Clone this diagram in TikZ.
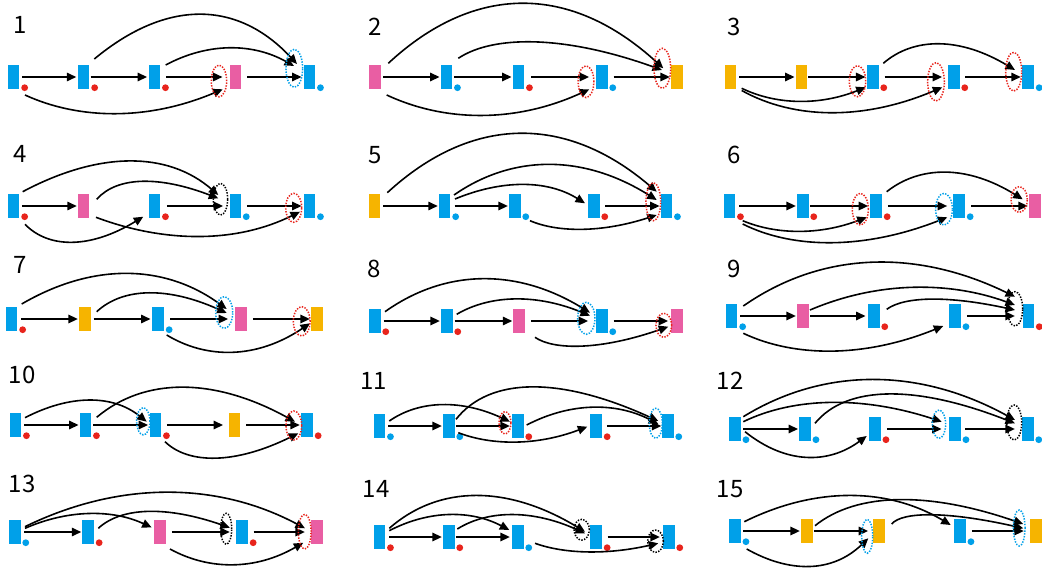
\documentclass[tikz,border=0pt]{standalone}
\usepackage{fontspec}
\newfontfamily\numfont{Noto Sans CJK JP}
\usetikzlibrary{arrows.meta,shapes.geometric}
\definecolor{cblue}{RGB}{0,160,233}
\definecolor{cpink}{RGB}{233,94,163}
\definecolor{corange}{RGB}{246,180,0}
\definecolor{cred}{RGB}{232,36,28}
% one coloured bar, its small marker dot, a dotted ring
\newcommand\mkbar[4]{\node[bar,fill=#4] (#1) at (#2,#3) {};}
\newcommand\mkdot[2]{\node[dotmark,fill=#2] (#1d) at ([shift={(5,-1.5)}]#1.south east) {};}
\newcommand\mkring[6]{\node[ring,draw=#2,minimum width=#5pt,minimum height=#6pt] (#1) at (#3,#4) {};}
% straight link between neighbours, and a bent link
\newcommand\hstep[4]{\draw[arr] ([xshift=#3]#1.east) -- ([xshift=#4]#2.west);}
\newcommand\harc[6]{\draw[arr] ([shift={#2}]#1.center) .. controls +#3 and +#4 .. ([shift={#6}]#5.center);}
\begin{document}
\begin{tikzpicture}[x=1pt,y=-1pt,
  bar/.style={rectangle,inner sep=0,minimum width=11.5pt,minimum height=24pt,draw=none},
  dotmark/.style={circle,inner sep=0,minimum size=6.8pt,draw=none},
  ring/.style={ellipse,inner sep=0,line width=1.5pt,dash pattern=on 1.4pt off 1.4pt},
  arr/.style={line width=1.6pt,-{Triangle[length=9.5pt,width=8.5pt]}},
  num/.style={font=\numfont\fontsize{24}{24}\selectfont,anchor=base,inner sep=0}]
\useasboundingbox[fill=white] (0,0) rectangle (1042,570);

% ---------- 1 ----------
\node[num] (n1) at (20,33.5) {1};
\mkbar{p1a}{13.7}{77}{cblue} \mkbar{p1b}{83.7}{77}{cblue} \mkbar{p1c}{154.5}{77}{cblue}
\mkbar{p1d}{235.3}{77}{cpink} \mkbar{p1e}{309.5}{77}{cblue}
\mkdot{p1a}{cred} \mkdot{p1b}{cred} \mkdot{p1c}{cred} \mkdot{p1e}{cblue}
\hstep{p1a}{p1b}{2.7}{-1.5} \hstep{p1b}{p1c}{1}{-1.5} \hstep{p1c}{p1d}{5.7}{-6.9} \hstep{p1d}{p1e}{6}{-2}
\harc{p1b}{(10.6,-18)}{(71.7,-59.5)}{(-60.1,-64.5)}{p1e}{(-12.5,-13)}
\harc{p1c}{(11.2,-12)}{(41.7,-22.4)}{(-41.7,-23.4)}{p1e}{(-15.5,-11)}
\harc{p1a}{(11.3,18)}{(55.2,25.3)}{(-73.4,31)}{p1d}{(-12.6,12.3)}
\mkring{p1r}{cred}{219}{81}{15.3}{31.7} \mkring{p1s}{cblue}{294.3}{68.3}{16.7}{38}

% ---------- 2 ----------
\node[num] (n2) at (375,35) {2};
\mkbar{p2a}{375}{77}{cpink} \mkbar{p2b}{446.5}{77}{cblue} \mkbar{p2c}{518.5}{77}{cblue}
\mkbar{p2d}{601.8}{77}{cblue} \mkbar{p2e}{676.8}{77}{corange}
\mkdot{p2b}{cblue} \mkdot{p2c}{cred} \mkdot{p2d}{cblue}
\hstep{p2a}{p2b}{2.5}{-1} \hstep{p2b}{p2c}{2}{-1} \hstep{p2c}{p2d}{6.75}{-6.75} \hstep{p2d}{p2e}{5.75}{-1}
\harc{p2a}{(13.3,-13.7)}{(86.1,-79.9)}{(-92.7,-84.9)}{p2e}{(-13.5,-8.7)}
\harc{p2b}{(11.8,-18.7)}{(34.9,-23.3)}{(-97.5,-35)}{p2e}{(-14.8,-7)}
\harc{p2a}{(11.7,18)}{(59.1,27.6)}{(-72.5,33.3)}{p2d}{(-12.5,12.3)}
\mkring{p2r}{cred}{586}{81.7}{15.7}{31.7} \mkring{p2s}{cred}{662.3}{68.3}{16.7}{40}

% ---------- 3 ----------
\node[num] (n3) at (734,35) {3};
\mkbar{p3a}{730.5}{77}{corange} \mkbar{p3b}{801.5}{77}{corange} \mkbar{p3c}{872.8}{77}{cblue}
\mkbar{p3d}{953.8}{77}{cblue} \mkbar{p3e}{1028.2}{77}{cblue}
\mkdot{p3c}{cred} \mkdot{p3d}{cred} \mkdot{p3e}{cblue}
\hstep{p3a}{p3b}{3}{-1} \hstep{p3b}{p3c}{1}{-1.4} \hstep{p3c}{p3d}{5.75}{-5.75} \hstep{p3d}{p3e}{5.5}{-1.5}
\harc{p3a}{(11.2,11.3)}{(35.4,17.1)}{(-45.2,18.1)}{p3c}{(-7.1,10.3)}
\harc{p3a}{(11.2,13.5)}{(53.2,29.6)}{(-77.2,32.8)}{p3d}{(-11.5,10.3)}
\harc{p3c}{(10.5,-13.7)}{(30.5,-26.4)}{(-55.1,-33.1)}{p3e}{(-13.2,-7)}
\mkring{p3r}{cred}{857.5}{81.2}{16.3}{31} \mkring{p3s}{cred}{936}{81.8}{16.7}{38.3}
\mkring{p3t}{cred}{1013.7}{71.7}{16}{38.7}

% ---------- 4 ----------
\node[num] (n4) at (20.5,162) {4};
\mkbar{p4a}{13.7}{206}{cblue} \mkbar{p4b}{83.7}{206}{cpink} \mkbar{p4c}{154.5}{206}{cblue}
\mkbar{p4d}{235.3}{206}{cblue} \mkbar{p4e}{309.5}{206}{cblue}
\mkdot{p4a}{cred} \mkdot{p4c}{cred} \mkdot{p4d}{cblue} \mkdot{p4e}{cblue}
\hstep{p4a}{p4b}{2.25}{-1} \hstep{p4c}{p4d}{6.5}{-6.25} \hstep{p4d}{p4e}{5.6}{-2}
\harc{p4a}{(9,-14.3)}{(76.3,-40.6)}{(-50.9,-43.9)}{p4d}{(-17,-11)}
\harc{p4b}{(13,-6.7)}{(20.6,-23.3)}{(-58.4,-22.3)}{p4d}{(-17,-7.7)}
\harc{p4a}{(11.3,18.3)}{(23.9,24.5)}{(-52.9,32.1)}{p4c}{(-11.2,10.7)}
\harc{p4b}{(12.3,11.3)}{(69,25.9)}{(-63.6,31.5)}{p4e}{(-9.5,5.7)}
\mkring{p4r}{black}{220.5}{199.2}{14.3}{31.7} \mkring{p4s}{cred}{293.7}{207.8}{16}{29}

% ---------- 5 ----------
\node[num] (n5) at (375,163) {5};
\mkbar{p5a}{374.5}{206}{corange} \mkbar{p5b}{444.7}{206}{cblue} \mkbar{p5c}{514.8}{206}{cblue}
\mkbar{p5d}{593.8}{206}{cblue} \mkbar{p5e}{666.5}{206}{cblue}
\mkdot{p5b}{cblue} \mkdot{p5c}{cblue} \mkdot{p5d}{cred} \mkdot{p5e}{cblue}
\hstep{p5a}{p5b}{3}{-1} \hstep{p5b}{p5c}{3.9}{-1} \hstep{p5d}{p5e}{5.5}{-1}
\harc{p5a}{(12.8,-13.3)}{(84.9,-78.1)}{(-90.3,-77.1)}{p5e}{(-9.8,-14.3)}
\harc{p5b}{(9.3,-11)}{(58.8,-40.9)}{(-73,-45.9)}{p5e}{(-9.8,-6)}
\harc{p5b}{(10.3,-7)}{(46.7,-19.4)}{(-37.9,-23.7)}{p5d}{(-8.8,-2.7)}
\harc{p5c}{(15.2,14.7)}{(27.9,12)}{(-54.5,17.7)}{p5e}{(-9.8,9)}
\mkring{p5r}{cred}{653.3}{201.7}{14.7}{38}

% ---------- 6 ----------
\node[num] (n6) at (734.5,163) {6};
\mkbar{p6a}{729.5}{206}{cblue} \mkbar{p6b}{802.8}{206}{cblue} \mkbar{p6c}{876.2}{206}{cblue}
\mkbar{p6d}{959.2}{206}{cblue} \mkbar{p6e}{1034.8}{206}{cpink}
\mkdot{p6a}{cred} \mkdot{p6b}{cred} \mkdot{p6c}{cred} \mkdot{p6d}{cblue}
\hstep{p6a}{p6b}{4}{-1} \hstep{p6b}{p6c}{1.5}{-2.1} \hstep{p6c}{p6d}{5.75}{-6.1} \hstep{p6d}{p6e}{6}{-1}
\harc{p6a}{(13.2,14.7)}{(34,14.3)}{(-46.6,17.7)}{p6c}{(-9.5,11.3)}
\harc{p6a}{(13.2,18)}{(50.9,25.5)}{(-82.1,32.2)}{p6d}{(-11.9,11.3)}
\harc{p6c}{(10.5,-14.3)}{(33.5,-26.6)}{(-54.9,-34.2)}{p6e}{(-12.1,-6.7)}
\mkring{p6r}{cred}{860.3}{209.2}{16}{31.7} \mkring{p6s}{cblue}{944}{209.2}{16.7}{31.7}
\mkring{p6t}{cred}{1019.2}{199.5}{16.3}{25.7}

% ---------- 7 ----------
\node[num] (n7) at (20,273) {7};
\mkbar{p7a}{11.7}{319}{cblue} \mkbar{p7b}{84.8}{319}{corange} \mkbar{p7c}{158.2}{319}{cblue}
\mkbar{p7d}{240.8}{319}{cpink} \mkbar{p7e}{316.8}{319}{corange}
\mkdot{p7a}{cred} \mkdot{p7c}{cblue}
\hstep{p7a}{p7b}{3.5}{-1} \hstep{p7b}{p7c}{2.75}{-1.75} \hstep{p7c}{p7d}{6}{-6.75} \hstep{p7d}{p7e}{6.1}{-1}
\harc{p7a}{(10,-15)}{(69.9,-40.8)}{(-63.3,-45.8)}{p7d}{(-14.1,-10)}
\harc{p7b}{(11.9,-7.3)}{(26.7,-24.8)}{(-57.9,-26.1)}{p7d}{(-14.1,-6)}
\harc{p7c}{(8.5,16)}{(39.9,24.2)}{(-53.3,35.9)}{p7e}{(-6.8,4.3)}
\mkring{p7r}{cblue}{224.2}{312.5}{17}{31.7} \mkring{p7s}{cred}{301.7}{321.3}{16.7}{29.3}

% ---------- 8 ----------
\node[num] (n8) at (374.5,277) {8};
\mkbar{p8a}{374.8}{321}{cblue} \mkbar{p8b}{446.8}{321}{cblue} \mkbar{p8c}{519.2}{321}{cpink}
\mkbar{p8d}{601.8}{321}{cblue} \mkbar{p8e}{676.8}{321}{cpink}
\mkdot{p8a}{cred} \mkdot{p8b}{cred} \mkdot{p8d}{cblue}
\hstep{p8a}{p8b}{2.75}{-1} \hstep{p8b}{p8c}{1.75}{-1} \hstep{p8c}{p8d}{6}{-7.75} \hstep{p8d}{p8e}{5.75}{-2.75}
\harc{p8a}{(10.2,-9.3)}{(61,-43.4)}{(-72.2,-44.4)}{p8d}{(-11.8,-8.3)}
\harc{p8b}{(9.9,-6.7)}{(34.4,-20.2)}{(-52.2,-21.6)}{p8d}{(-11.8,-5.3)}
\harc{p8c}{(15.8,16.3)}{(18.8,13)}{(-67.8,23.6)}{p8e}{(-8.5,5.7)}
\mkring{p8r}{cblue}{586.3}{318.3}{17.3}{32} \mkring{p8s}{cred}{663.8}{325.3}{15.7}{24}

% ---------- 9 ----------
\node[num] (n9) at (734.5,277) {9};
\mkbar{p9a}{731.7}{316}{cblue} \mkbar{p9b}{802.8}{316}{cpink} \mkbar{p9c}{873.8}{316}{cblue}
\mkbar{p9d}{955}{316}{cblue} \mkbar{p9e}{1028.3}{316}{cblue}
\mkdot{p9a}{cblue} \mkdot{p9c}{cred} \mkdot{p9d}{cblue} \mkdot{p9e}{cred}
\hstep{p9a}{p9b}{2.5}{-1} \hstep{p9b}{p9c}{1.5}{-2.35} \hstep{p9d}{p9e}{6}{-7.5}
\harc{p9a}{(11.6,-10)}{(80.5,-56.2)}{(-96.1,-46.9)}{p9e}{(-13.3,-19.3)}
\harc{p9b}{(7.2,-6)}{(67.7,-28.9)}{(-65.5,-23.9)}{p9e}{(-13.3,-11)}
\harc{p9c}{(12.9,-6.7)}{(18.3,-13.4)}{(-65.1,-14.1)}{p9e}{(-13.3,-6)}
\harc{p9a}{(11.6,17.3)}{(51.7,24.4)}{(-78.3,31.7)}{p9d}{(-11.7,10)}
\mkring{p9r}{black}{1015}{308.8}{15.3}{34.3}

% ---------- 10 ----------
\node[num] (n10) at (22,383) {10};
\mkbar{p10a}{15.5}{425}{cblue} \mkbar{p10b}{85.5}{425}{cblue} \mkbar{p10c}{155.5}{425}{cblue}
\mkbar{p10d}{234.5}{425}{corange} \mkbar{p10e}{307.2}{425}{cblue}
\mkdot{p10a}{cred} \mkdot{p10b}{cred} \mkdot{p10c}{cred} \mkdot{p10e}{cred}
\hstep{p10a}{p10b}{2.75}{-1} \hstep{p10b}{p10c}{2}{-1.5} \hstep{p10c}{p10d}{5.5}{-5.5} \hstep{p10d}{p10e}{5.75}{-1.5}
\harc{p10a}{(9.5,-7.3)}{(45.1,-23.3)}{(-34.1,-27.3)}{p10c}{(-8.8,-3.3)}
\harc{p10b}{(11.2,-7.7)}{(47.7,-40.2)}{(-81.1,-44.6)}{p10e}{(-12.2,-3.3)}
\harc{p10c}{(9.5,16.7)}{(23.4,22.7)}{(-63.2,31.1)}{p10e}{(-8.9,8.3)}
\mkring{p10r}{cblue}{143.3}{421.3}{13.3}{27.3} \mkring{p10s}{cred}{293.8}{425.5}{15.7}{29}

% ---------- 11 ----------
\node[num] (n11) at (373.5,389) {11};
\mkbar{p11a}{379.5}{426}{cblue} \mkbar{p11b}{448.8}{426}{cblue} \mkbar{p11c}{517.8}{426}{cblue}
\mkbar{p11d}{596.2}{426}{cblue} \mkbar{p11e}{667.8}{426}{cblue}
\mkdot{p11a}{cblue} \mkdot{p11b}{cblue} \mkdot{p11c}{cred} \mkdot{p11d}{cred} \mkdot{p11e}{cblue}
\hstep{p11a}{p11b}{3}{-1} \hstep{p11b}{p11c}{1}{-2} \hstep{p11d}{p11e}{4.75}{-0.5}
\harc{p11a}{(9.8,-5)}{(30.7,-21.4)}{(-47.7,-22.1)}{p11c}{(-7.8,-4.3)}
\harc{p11b}{(7.2,-6.7)}{(33.9,-42.9)}{(-97.5,-44.6)}{p11e}{(-9.5,-5)}
\harc{p11c}{(8.9,-1)}{(43.9,-22.9)}{(-41.7,-21.9)}{p11e}{(-9.5,-2)}
\harc{p11b}{(9.5,6.7)}{(33.8,13)}{(-50,19)}{p11d}{(-8.9,0.7)}
\mkring{p11r}{cred}{505}{422.8}{12}{22.3} \mkring{p11s}{cblue}{655.8}{423.3}{13}{30}

% ---------- 12 ----------
\node[num] (n12) at (730,389) {12};
\mkbar{p12a}{735}{429}{cblue} \mkbar{p12b}{805}{429}{cblue} \mkbar{p12c}{875}{429}{cblue}
\mkbar{p12d}{955}{429}{cblue} \mkbar{p12e}{1027.8}{429}{cblue}
\mkdot{p12a}{cblue} \mkdot{p12b}{cblue} \mkdot{p12c}{cred} \mkdot{p12d}{cblue} \mkdot{p12e}{cblue}
\hstep{p12a}{p12b}{2.5}{-1} \hstep{p12c}{p12d}{6}{-7.5} \hstep{p12d}{p12e}{4.25}{-7}
\harc{p12a}{(8.3,-12.3)}{(80.5,-49.5)}{(-96.1,-52.8)}{p12e}{(-12.8,-9)}
\harc{p12a}{(8.3,-7.3)}{(52.2,-25.3)}{(-76.8,-25.3)}{p12d}{(-13.3,-7.3)}
\harc{p12b}{(10,-5.7)}{(31.7,-38.6)}{(-98.3,-38.6)}{p12e}{(-12.8,-5.7)}
\harc{p12a}{(10,2.7)}{(40.7,32.6)}{(-38.5,28.3)}{p12c}{(-8.3,7)}
\mkring{p12r}{cblue}{939}{424.2}{13.3}{28.3} \mkring{p12s}{black}{1014.2}{422.5}{15}{35}

% ---------- 13 ----------
\node[num] (n13) at (22,492) {13};
\mkbar{p13a}{14.8}{532}{cblue} \mkbar{p13b}{88.2}{532}{cblue} \mkbar{p13c}{160}{532}{cpink}
\mkbar{p13d}{242.2}{532}{cblue} \mkbar{p13e}{316.8}{532}{cpink}
\mkdot{p13a}{cblue} \mkdot{p13b}{cred} \mkdot{p13d}{cred}
\hstep{p13a}{p13b}{3.5}{-1} \hstep{p13c}{p13d}{6}{-6.5} \hstep{p13d}{p13e}{5.35}{-6}
\harc{p13a}{(10.2,-5.3)}{(93.3,-45.6)}{(-88.7,-47.2)}{p13e}{(-11.8,-3.7)}
\harc{p13a}{(10.2,-3.7)}{(43.4,-19)}{(-39,-18.2)}{p13c}{(-8.3,-4.5)}
\harc{p13b}{(10.1,-3.7)}{(23.9,-22)}{(-61.7,-21.4)}{p13d}{(-12.2,-4.3)}
\harc{p13c}{(10,17)}{(38.8,21.4)}{(-47.8,27.7)}{p13e}{(-13.5,10.7)}
\mkring{p13r}{black}{226.2}{528.8}{11}{31} \mkring{p13s}{cred}{304.7}{531.7}{12.7}{34.7}

% ---------- 14 ----------
\node[num] (n14) at (376,497) {14};
\mkbar{p14a}{379.5}{537}{cblue} \mkbar{p14b}{448.8}{537}{cblue} \mkbar{p14c}{517.8}{537}{cblue}
\mkbar{p14d}{596.2}{537}{cblue} \mkbar{p14e}{668.8}{537}{cblue}
\mkdot{p14a}{cred} \mkdot{p14b}{cred} \mkdot{p14c}{cblue} \mkdot{p14d}{cred} \mkdot{p14e}{cred}
\hstep{p14a}{p14b}{4}{-1} \hstep{p14b}{p14c}{1}{-2} \hstep{p14d}{p14e}{5.35}{-3}
\harc{p14a}{(9.8,-8.7)}{(49.7,-43.6)}{(-77.5,-47)}{p14d}{(-11.2,-5.3)}
\harc{p14a}{(9.8,-6.3)}{(39.9,-20.8)}{(-38.1,-20.1)}{p14c}{(-8.5,-7)}
\harc{p14b}{(8.5,-8)}{(31,-19.4)}{(-52,-23.7)}{p14d}{(-11.2,-3.7)}
\harc{p14c}{(17.2,6.3)}{(31.2,11.2)}{(-49,11.2)}{p14e}{(-10.5,6.3)}
\mkring{p14r}{black}{581.7}{529.7}{15.3}{20.7} \mkring{p14s}{black}{655.5}{541.2}{15.7}{22.3}

% ---------- 15 ----------
\node[num] (n15) at (730,497) {15};
\mkbar{p15a}{735}{531}{cblue} \mkbar{p15b}{806.8}{531}{corange} \mkbar{p15c}{879.2}{531}{corange}
\mkbar{p15d}{960}{531}{cblue} \mkbar{p15e}{1035.8}{531}{corange}
\mkdot{p15a}{cblue} \mkdot{p15d}{cblue}
\hstep{p15a}{p15b}{2.5}{-1} \hstep{p15b}{p15c}{1}{-5.15} \hstep{p15d}{p15e}{6}{-6}
\harc{p15a}{(9.3,-9.3)}{(70.4,-34.8)}{(-63.8,-38.1)}{p15d}{(-9.3,-6)}
\harc{p15b}{(8.2,-5.3)}{(42.2,-34)}{(-93.2,-32.3)}{p15e}{(-12.5,-7)}
\harc{p15c}{(12.5,-7)}{(10.5,-12.7)}{(-75.1,-17)}{p15e}{(-12.5,-2.7)}
\harc{p15a}{(11.7,18)}{(42.8,24.1)}{(-36.2,34.8)}{p15c}{(-10.9,7.3)}
\mkring{p15r}{cblue}{867.2}{536.3}{11}{34} \mkring{p15s}{cblue}{1019.2}{528}{11.7}{36}
\end{tikzpicture}
\end{document}
